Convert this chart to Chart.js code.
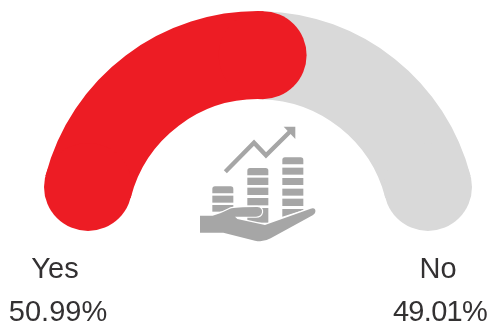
<!DOCTYPE html>
<html lang="en">
<head>
  <meta charset="UTF-8" />
  <title>Yes / No gauge</title>
  <script src="https://cdn.jsdelivr.net/npm/chart.js"></script>
  <style>
    html, body { margin: 0; background: #fff; }
    #wrap { position: relative; width: 489px; height: 327px; overflow: hidden; }
    #gauge { position: absolute; left: 0; top: 0; }
    #icon { position: absolute; left: 180px; top: 110px; width: 150px; height: 135px; }
  </style>
</head>
<body>
  <div id="wrap">
    <canvas id="gauge" width="489" height="327"></canvas>
    <svg id="icon" viewBox="0 0 450 405">
      <g fill="#a6a6a6">
        <!-- coin stacks -->
        <path d="M97 250v-13q0-8 8-8h47q8 0 8 8v13z" />
        <rect x="97" y="257" width="63" height="21" />
        <rect x="97" y="285" width="63" height="20" />
        <path d="M202 196v-14q0-8 8-8h47q8 0 8 8v14z" />
        <rect x="202" y="203" width="63" height="22" />
        <rect x="202" y="233" width="63" height="22" />
        <rect x="202" y="264" width="63" height="22" />
        <rect x="202" y="294" width="63" height="44" />
        <path d="M307 163v-13q0-8 8-8h47q8 0 8 8v13z" />
        <rect x="307" y="173" width="63" height="21" />
        <rect x="307" y="204" width="63" height="21" />
        <rect x="307" y="236" width="63" height="21" />
        <rect x="307" y="266" width="63" height="22" />
        <path d="M307 297h63v3l-63 20z" />
      </g>
      <!-- trend arrow -->
      <path d="M136 185L222 98L258 136L335 60" fill="none" stroke="#a6a6a6" stroke-width="13" />
      <path d="M311 50H346V87Z" fill="#a6a6a6" />
      <!-- open hand -->
      <path d="M60 317H98Q128 308 150 296Q165 291 232 291Q248 293 246 307Q243 320 228 320L165 320L172 327L255 345L392 296Q408 292 406 306Q405 312 398 316L272 385Q250 398 225 392L130 368H60Z"
            fill="#a6a6a6" stroke="#fff" stroke-width="7" paint-order="stroke" />
    </svg>
  </div>

  <script>
    const categories = ['Yes', 'No'];
    const seriesValues = [50.99, 49.01];
    const tickLabels = ['50.99%', '49.01%'];
    const colors = ['#ed1c24', '#d9d9d9'];

    // round ends on the arcs; the red end has to sit over the grey arc
    const roundCaps = {
      id: 'roundCaps',
      afterDatasetsDraw(chart) {
        const { ctx } = chart;
        const [yes, no] = chart.getDatasetMeta(0).data;
        const cap = (arc, angle, color) => {
          const r = (arc.outerRadius + arc.innerRadius) / 2;
          const w = (arc.outerRadius - arc.innerRadius) / 2;
          ctx.beginPath();
          ctx.arc(arc.x + Math.cos(angle) * r, arc.y + Math.sin(angle) * r, w, 0, Math.PI * 2);
          ctx.fillStyle = color;
          ctx.fill();
        };
        cap(no, no.endAngle, colors[1]);
        cap(yes, yes.startAngle, colors[0]);
        cap(yes, yes.endAngle, colors[0]);
      }
    };

    const sideLabels = {
      id: 'sideLabels',
      afterDraw(chart) {
        const { ctx } = chart;
        ctx.save();
        ctx.font = '29px "Liberation Sans"';
        ctx.fillStyle = '#333132';
        ctx.textAlign = 'center';
        ctx.fillText(categories[0], 55, 278);
        ctx.fillText(tickLabels[0], 58, 321);
        ctx.fillText(categories[1], 438, 278);
        ctx.letterSpacing = '-0.7px';
        ctx.fillText(tickLabels[1], 440, 321);
        ctx.restore();
      }
    };

    new Chart(document.getElementById('gauge'), {
      type: 'doughnut',
      data: {
        labels: categories,
        datasets: [{
          data: seriesValues,
          backgroundColor: colors,
          borderWidth: 0
        }]
      },
      options: {
        responsive: false,
        animation: false,
        rotation: -75.6,
        circumference: 151.2,
        radius: 219.5,
        cutout: '59.9%',
        layout: { padding: { left: 27, bottom: 118 } },
        plugins: {
          legend: { display: false },
          tooltip: { enabled: false }
        }
      },
      plugins: [roundCaps, sideLabels]
    });
  </script>
</body>
</html>
